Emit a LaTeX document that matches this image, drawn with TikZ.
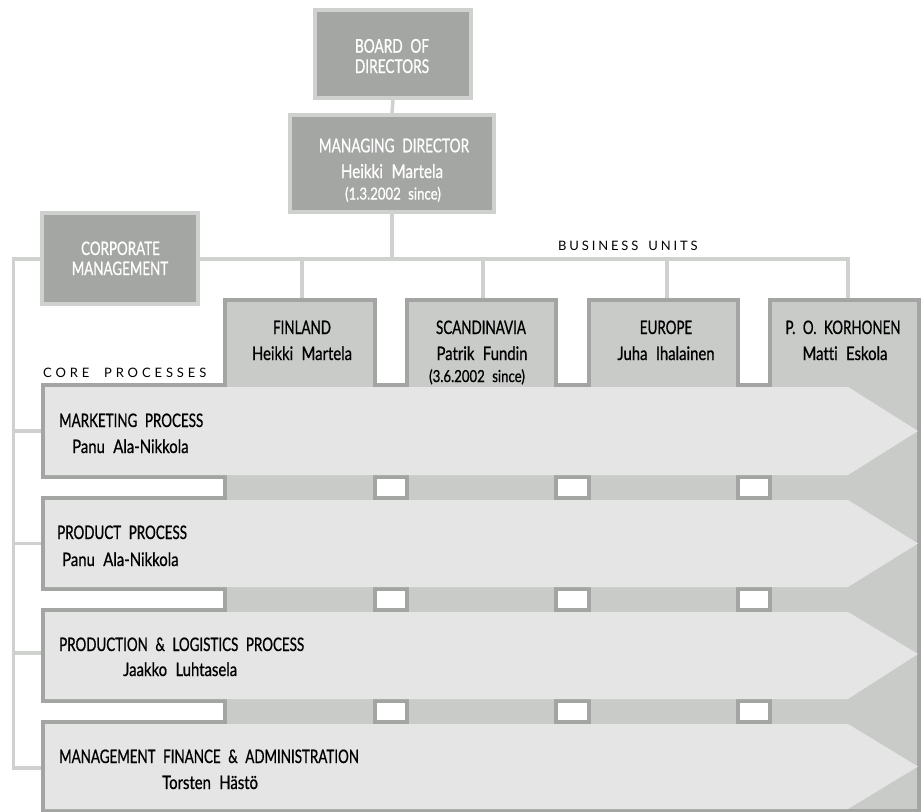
\documentclass[tikz,border=0pt]{standalone}
\usepackage{fontspec}
\setmainfont{Lato}
\newfontfamily\cond[FakeStretch=0.72,WordSpace=2.2,FakeBold=0.8,Ligatures=NoCommon]{Lato}
\newfontfamily\condl[FakeStretch=0.8,WordSpace=2.2,FakeBold=0.8,Ligatures=NoCommon]{Lato}
\newfontfamily\spaced[LetterSpace=22,WordSpace=1.6]{Lato}
\newfontfamily\spacedw[LetterSpace=30,WordSpace=1.6]{Lato}
\definecolor{boxD}{HTML}{A3A6A2}
\definecolor{lineC}{HTML}{CFD1CF}
\definecolor{colC}{HTML}{C9CBC9}
\definecolor{bandC}{HTML}{E4E5E4}
\definecolor{outC}{HTML}{A2A5A2}
\begin{document}
\begin{tikzpicture}[x=1pt,y=-1pt,
  conn/.style={draw=lineC, line width=3.5pt},
  topbox/.style={rectangle, fill=boxD, draw=lineC, line width=4pt, inner sep=0pt},
  outl/.style={draw=outC, line width=8pt, line join=miter},
  colfill/.style={fill=colC},
  bandfill/.style={fill=bandC},
  lbl/.style={font=\cond\fontsize{18.6}{22}\selectfont, inner sep=0pt, anchor=base},
  namelbl/.style={lbl, font=\condl\fontsize{18.6}{22}\selectfont},
  biglbl/.style={lbl, font=\cond\fontsize{19}{23}\selectfont, text=white},
  bigname/.style={lbl, font=\condl\fontsize{19}{23}\selectfont, text=white},
  smalllbl/.style={lbl, font=\condl\fontsize{16.5}{18}\selectfont},
  lblW/.style={lbl, anchor=base west},
  nameW/.style={namelbl, anchor=base west},
  hdr/.style={font=\spaced\fontsize{13}{15}\selectfont, inner sep=0pt, anchor=base west}
]
\useasboundingbox (0,0) rectangle (922,812);

% coordinates
\coordinate (busL) at (13.5,259);
\coordinate (finTop) at (302,304);
\coordinate (scaTop) at (483,304);
\coordinate (eurTop) at (667,304);
\coordinate (korTop) at (848,304);
\coordinate (mktW) at (45,431);
\coordinate (prdW) at (45,543.5);
\coordinate (plW) at (45,653);
\coordinate (mgtW) at (45,768);

% top boxes
\node[topbox, minimum width=156pt, minimum height=88pt] (board) at (393,54) {};
\node[topbox, minimum width=204pt, minimum height=97pt] (md) at (392,163.5) {};

% connectors
\draw[conn] (board.south) -- (md.north);
\draw[conn] (md.south) -- (md.south |- busL);
\draw[conn] (korTop) |- (busL) |- (mgtW);
\draw[conn] (finTop |- busL) -- (finTop);
\draw[conn] (scaTop |- busL) -- (scaTop);
\draw[conn] (eurTop |- busL) -- (eurTop);
\draw[conn] (busL |- mktW) -- (mktW);
\draw[conn] (busL |- prdW) -- (prdW);
\draw[conn] (busL |- plW) -- (plW);

\node[topbox, minimum width=156pt, minimum height=91pt] (corp) at (120,258.5) {};

% outline of union (columns + bands)
\foreach \a/\b in {227/373, 409/554, 591/736, 772/917}
  \draw[outl] (\a,302) rectangle (\b,809);
\foreach \t/\u in {387/475, 500/587, 612/699, 724/809}
  \draw[outl] (45,\t) rectangle (848,\u);
% column fills
\foreach \a/\b in {227/373, 409/554, 591/736, 772/917}
  \fill[colfill] (\a,302) rectangle (\b,809);
% band fills (arrows)
\fill[bandfill] (45,387) -- (848,387) -- (918,431) -- (848,475) -- (45,475) -- cycle;
\fill[bandfill] (45,500) -- (848,500) -- (918,543.5) -- (848,587) -- (45,587) -- cycle;
\fill[bandfill] (45,612) -- (848,612) -- (918,654) -- (848,699) -- (45,699) -- cycle;
\fill[bandfill] (45,724) -- (848,724) -- (918,766.5) -- (848,809) -- (45,809) -- cycle;

% texts top
\node[biglbl] (boardT1) at (392,52.7) {BOARD OF};
\node[biglbl] (boardT2) at (392,73) {DIRECTORS};
\node[biglbl] (mdT1) at (394,152.3) {MANAGING DIRECTOR};
\node[bigname] (mdT2) at (392,178) {Heikki Martela};
\node[smalllbl, text=white] (mdT3) at (393,199.5) {(1.3.2002 since)};
\node[biglbl, font=\cond\fontsize{18.6}{23}\selectfont] (corpT1) at (120.5,255) {CORPORATE};
\node[biglbl, font=\cond\fontsize{18.6}{23}\selectfont] (corpT2) at (120,275) {MANAGEMENT};

\node[hdr] (busT) at (558,250) {BUSINESS UNITS};
\node[hdr, font=\spacedw\fontsize{13}{15}\selectfont] (coreT) at (43,377) {CORE\hspace{3pt} PROCESSES};

% unit texts
\node[lbl] (finT1) at (302,334) {FINLAND};
\node[namelbl] (finT2) at (302,360) {Heikki Martela};
\node[lbl] (scaT1) at (481,334) {SCANDINAVIA};
\node[namelbl] (scaT2) at (482,360) {Patrik Fundin};
\node[smalllbl] (scaT3) at (477,382) {(3.6.2002 since)};
\node[lbl] (eurT1) at (666,334) {EUROPE};
\node[namelbl] (eurT2) at (666,360) {Juha Ihalainen};
\node[lbl] (korT1) at (843,334) {P. O. KORHONEN};
\node[namelbl] (korT2) at (845,360) {Matti Eskola};

% band texts
\node[lblW] (mktT1) at (59,427) {MARKETING PROCESS};
\node[nameW] (mktT2) at (72,453) {Panu Ala-Nikkola};
\node[lblW] (prdT1) at (57,539) {PRODUCT PROCESS};
\node[nameW] (prdT2) at (62,566) {Panu Ala-Nikkola};
\node[lblW] (plT1) at (59,651) {PRODUCTION \& LOGISTICS PROCESS};
\node[nameW] (plT2) at (123,676) {Jaakko Luhtasela};
\node[lblW] (mgtT1) at (59,763) {MANAGEMENT FINANCE \& ADMINISTRATION};
\node[nameW] (mgtT2) at (162,789) {Torsten Hästö};
\end{tikzpicture}
\end{document}
